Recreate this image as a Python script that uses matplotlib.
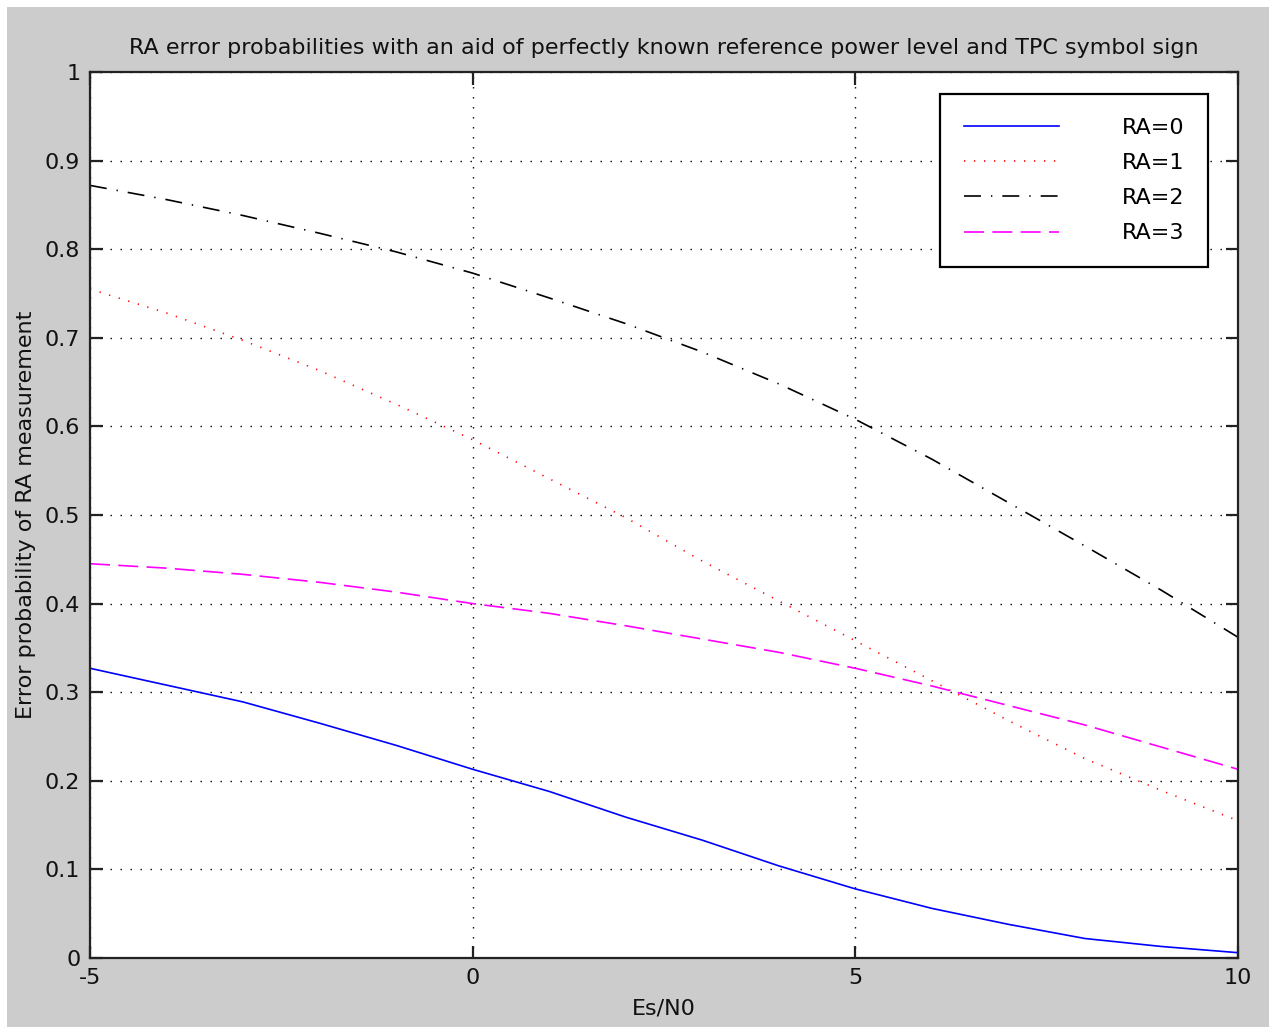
import matplotlib
matplotlib.use('Agg')
import matplotlib.pyplot as plt
from matplotlib.patches import Rectangle
import numpy as np

# Es/N0 in dB and error probability for each RA value
es_n0 = [-5, -4, -3, -2, -1, 0, 1, 2, 3, 4, 5, 6, 7, 8, 9, 10]
p_ra0 = [0.327, 0.308, 0.289, 0.265, 0.240, 0.213, 0.188, 0.159,
         0.133, 0.104, 0.078, 0.056, 0.038, 0.022, 0.013, 0.006]
p_ra1 = [0.755, 0.728, 0.697, 0.663, 0.625, 0.585, 0.541, 0.497,
         0.448, 0.403, 0.358, 0.313, 0.268, 0.225, 0.189, 0.155]
p_ra2 = [0.872, 0.856, 0.838, 0.818, 0.797, 0.773, 0.745, 0.716,
         0.684, 0.648, 0.608, 0.563, 0.514, 0.465, 0.415, 0.362]
p_ra3 = [0.445, 0.440, 0.433, 0.424, 0.413, 0.400, 0.389, 0.375,
         0.360, 0.345, 0.327, 0.307, 0.285, 0.263, 0.238, 0.213]
labels = ['RA=0', 'RA=1', 'RA=2', 'RA=3']

plt.rcParams['font.family'] = ['DejaVu Sans']
plt.rcParams['lines.scale_dashes'] = False
plt.rcParams['axes.unicode_minus'] = False

W, H = 1276, 1034
fig = plt.figure(figsize=(W / 100, H / 100), dpi=100, facecolor='white')
# grey figure panel inside a thin white margin
fig.patches.append(Rectangle((7 / W, 7 / H), (W - 14) / W, (H - 14) / H,
                             transform=fig.transFigure, facecolor='#cccccc',
                             edgecolor='none', zorder=-10))

ax = fig.add_axes([90 / W, (H - 958) / H, (1238 - 90) / W, (958 - 72) / H])
ax.set_facecolor('white')

lw = 1.2
ax.plot(es_n0, p_ra0, color='#0000ff', lw=lw, linestyle='-', label=labels[0])
ax.plot(es_n0, p_ra1, color='#ff0000', lw=lw, linestyle=(0, (0.9, 6.3)), label=labels[1])
ax.plot(es_n0, p_ra2, color='black', lw=lw, linestyle=(0, (12.2, 7.2, 1.0, 7.2)), label=labels[2])
ax.plot(es_n0, p_ra3, color='#ff00ff', lw=lw, linestyle=(0, (14.4, 6.0)), label=labels[3])

ax.set_xlim(-5, 10)
ax.set_ylim(0, 1)
ax.set_xticks([-5, 0, 5, 10])
ax.set_yticks(np.arange(0, 1.01, 0.1))
ax.set_yticklabels(['0', '0.1', '0.2', '0.3', '0.4', '0.5', '0.6', '0.7', '0.8', '0.9', '1'])

ax.grid(True, color='black', lw=1.0, linestyle=(0, (1.0, 6.2)))
ax.set_axisbelow(True)

for s in ax.spines.values():
    s.set_linewidth(1.6)
    s.set_color('#222222')
ax.tick_params(direction='in', length=9, width=1.6, color='#222222',
               top=True, right=True, labelsize=16, pad=7, labelcolor='#111111')

ax.set_title('RA error probabilities with an aid of perfectly known reference power level and TPC symbol sign',
             fontsize=16, pad=13, color='#111111')
ax.set_xlabel('Es/N0', fontsize=16, labelpad=8, color='#111111')
ax.set_ylabel('Error probability of RA measurement', fontsize=16, labelpad=6, color='#111111')

leg = ax.legend(loc='upper right', bbox_to_anchor=((1208 - 90) / 1148, (958 - 94) / 886),
                borderaxespad=0, fontsize=16, fancybox=False, framealpha=1,
                edgecolor='black', handlelength=4.3, handletextpad=2.8,
                labelspacing=0.68, borderpad=1.08)
leg.get_frame().set_linewidth(1.6)

fig.savefig('out.png', dpi=100, facecolor=fig.get_facecolor())
